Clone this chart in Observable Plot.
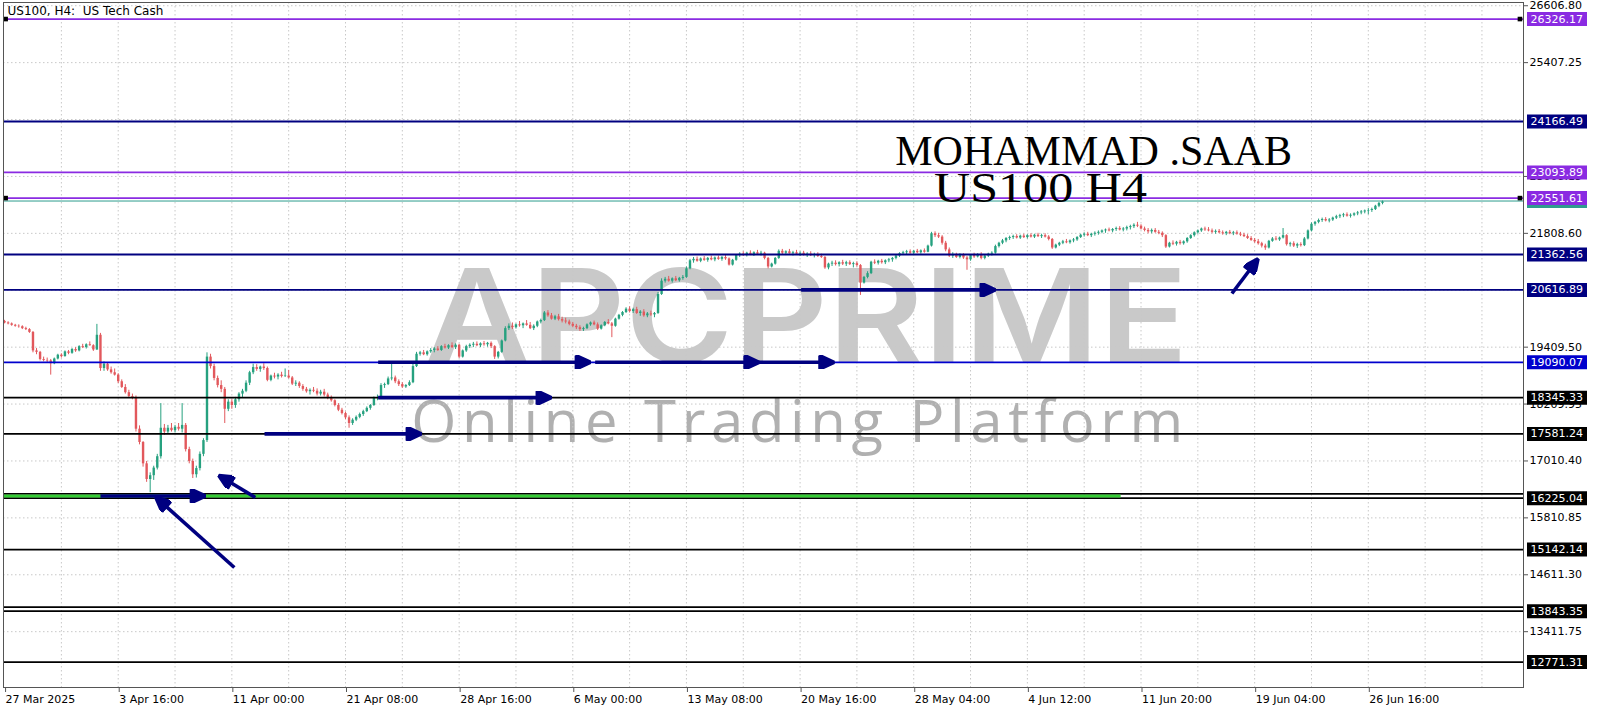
<!DOCTYPE html>
<html><head><meta charset="utf-8">
<script src="https://cdn.jsdelivr.net/npm/d3@7"></script>
<script src="https://cdn.jsdelivr.net/npm/@observablehq/plot@0.6"></script>
<style>html,body{margin:0;padding:0;background:#fff;}#chart svg{display:block;}</style>
</head><body><div id="chart"></div>
<script>
// ---- candles: [open, high, low, close], H4 bars from 27 Mar 2025 ----
const ohlc = [
// 27-28 Mar
[19950,19975,19900,19920],[19920,19945,19880,19900],[19900,19920,19850,19870],[19870,19890,19830,19850],
[19850,19880,19810,19840],[19840,19860,19780,19800],[19800,19830,19760,19780],[19780,19800,19700,19720],[19720,19740,19290,19330],[19330,19380,19250,19300],
// 31 Mar
[19300,19320,19120,19150],[19150,19200,19100,19130],[19130,19180,19080,19120],[19120,19150,18820,19060],[19060,19180,19040,19160],[19160,19260,19140,19240],
// 1 Apr
[19240,19270,19180,19210],[19210,19330,19200,19310],[19310,19340,19250,19280],[19280,19380,19260,19360],[19360,19400,19300,19330],[19330,19440,19310,19420],
// 2 Apr
[19420,19470,19380,19400],[19400,19480,19370,19460],[19460,19520,19430,19440],[19440,19460,19320,19350],[19350,19890,19340,19660],[19660,19700,18900,18960],
// 3 Apr
[18960,19100,18900,19050],[19050,19080,18900,18930],[18930,18990,18840,18870],[18870,18950,18800,18820],[18820,18850,18640,18680],[18680,18720,18540,18560],
// 4 Apr
[18560,18620,18420,18450],[18450,18500,18340,18370],[18370,18420,18300,18350],[18350,18380,17620,17680],[17680,17750,17350,17400],[17400,17420,16880,16950],
// 7 Apr
[16950,17000,16560,16620],[16620,16760,16340,16700],[16700,16900,16600,16860],[16860,17150,16820,17100],[17100,18220,17050,17700],[17700,17780,17550,17620],
// 8 Apr
[17620,17760,17580,17700],[17700,17800,17620,17650],[17650,17760,17600,17720],[17720,17800,17640,17680],[17680,18220,17600,17760],[17760,17800,17200,17250],
// 9 Apr
[17250,17300,16950,17000],[17000,17050,16640,16720],[16720,16900,16650,16850],[16850,17200,16800,17150],[17150,17480,17100,17440],[17440,19290,17400,19200],
// 10 Apr
[19200,19260,18950,19000],[19000,19050,18700,18750],[18750,18800,18550,18600],[18600,18700,18450,18520],[18520,18560,17800,18100],[18100,18300,18050,18250],
// 11 Apr
[18250,18300,18100,18180],[18180,18350,18120,18300],[18300,18450,18250,18420],[18420,18520,18350,18480],[18480,18700,18450,18650],[18650,18900,18600,18870],
// 14 Apr
[18870,19050,18830,18980],[18980,19040,18900,18940],[18940,19010,18880,18990],[18990,19060,18920,18960],[18960,18990,18680,18710],[18710,18820,18680,18800],
// 15 Apr
[18800,18860,18740,18780],[18780,18850,18720,18820],[18820,18880,18760,18790],[18790,18950,18770,18800],[18800,18920,18740,18760],[18760,18790,18600,18630],
// 16 Apr
[18630,18700,18580,18650],[18650,18680,18540,18580],[18580,18620,18480,18520],[18520,18560,18440,18470],[18470,18530,18400,18500],[18500,18560,18450,18480],
// 17 Apr
[18480,18530,18380,18420],[18420,18500,18380,18460],[18460,18520,18360,18400],[18400,18440,18300,18350],[18350,18380,18250,18280],[18280,18300,18150,18180],
// 21 Apr
[18180,18220,18050,18080],[18080,18120,17980,18010],[18010,18040,17880,17920],[17920,17960,17700,17800],[17800,17900,17760,17870],[17870,17960,17840,17930],
// 22 Apr
[17930,18020,17900,17990],[17990,18080,17950,18050],[18050,18150,18030,18120],[18120,18200,18080,18180],[18180,18360,18160,18330],[18330,18400,18280,18340],
// 23 Apr
[18340,18640,18320,18600],[18600,18650,18540,18620],[18620,18780,18600,18740],[18740,19060,18700,18760],[18760,18800,18640,18680],[18680,18720,18580,18620],
// 24 Apr
[18620,18660,18540,18570],[18570,18620,18540,18600],[18600,18700,18580,18660],[18660,19050,18640,19000],[19000,19300,18980,19260],[19260,19320,19220,19290],
// 25 Apr
[19290,19340,19230,19250],[19250,19330,19220,19310],[19310,19380,19280,19340],[19340,19400,19290,19370],[19370,19420,19320,19340],[19340,19440,19320,19420],
// 28 Apr
[19420,19470,19370,19390],[19390,19460,19360,19440],[19440,19500,19380,19400],[19400,19480,19360,19450],[19450,19470,19170,19200],[19200,19350,19180,19330],
// 29 Apr
[19330,19450,19300,19420],[19420,19480,19380,19450],[19450,19510,19400,19470],[19470,19520,19420,19440],[19440,19500,19400,19480],[19480,19530,19430,19460],
// 30 Apr
[19460,19510,19410,19490],[19490,19520,19380,19420],[19420,19440,19150,19200],[19200,19320,19160,19300],[19300,19560,19280,19540],[19540,19840,19520,19800],
// 1 May
[19800,19900,19760,19850],[19850,19920,19780,19820],[19820,19900,19790,19880],[19880,19950,19830,19860],[19860,19920,19800,19900],[19900,19970,19850,19870],
// 2 May
[19870,19930,19780,19800],[19800,19880,19760,19850],[19850,19960,19820,19940],[19940,20000,19900,19970],[19970,20160,19950,20130],[20130,20180,20040,20070],
// 5 May
[20070,20120,19980,20000],[20000,20080,19970,20050],[20050,20100,19960,19990],[19990,20040,19920,19960],[19960,20020,19900,19940],[19940,19980,19860,19890],
// 6 May
[19890,19930,19820,19850],[19850,19890,19780,19820],[19820,19860,19740,19780],[19780,19830,19740,19800],[19800,19900,19780,19880],[19880,19940,19850,19920],
// 7 May
[19920,19960,19860,19880],[19880,19920,19760,19790],[19790,19880,19770,19860],[19860,19950,19840,19930],[19930,19990,19880,19900],[19900,19930,19610,19850],
// 8 May
[19850,20020,19830,20000],[20000,20100,19980,20080],[20080,20160,20050,20140],[20140,20240,20120,20210],[20210,20260,20130,20160],[20160,20230,20120,20200],
// 9 May
[20200,20250,20100,20120],[20120,20180,20060,20150],[20150,20200,20040,20070],[20070,20140,20030,20110],[20110,20170,20060,20090],[20090,20140,20030,20120],
// 12 May
[20120,20560,20100,20520],[20520,20850,20500,20800],[20800,20880,20760,20840],[20840,20900,20780,20800],[20800,20870,20760,20850],[20850,20900,20790,20810],
// 13 May
[20810,20880,20780,20860],[20860,20920,20820,20880],[20880,21100,20860,21060],[21060,21260,21040,21230],[21230,21300,21180,21260],[21260,21310,21200,21220],
// 14 May
[21220,21290,21190,21270],[21270,21320,21220,21240],[21240,21300,21200,21280],[21280,21330,21230,21250],[21250,21310,21210,21290],[21290,21330,21240,21260],
// 15 May
[21260,21320,21220,21300],[21300,21340,21240,21270],[21270,21290,21120,21140],[21140,21260,21120,21240],[21240,21360,21220,21340],[21340,21400,21300,21370],
// 16 May
[21370,21420,21320,21350],[21350,21410,21310,21390],[21390,21440,21340,21360],[21360,21420,21320,21400],[21400,21450,21350,21370],[21370,21430,21330,21390],
// 19 May
[21390,21410,21250,21280],[21280,21300,21060,21100],[21100,21180,21080,21160],[21160,21300,21140,21280],[21280,21460,21260,21430],[21430,21470,21360,21390],
// 20 May
[21390,21440,21340,21420],[21420,21470,21370,21380],[21380,21430,21330,21400],[21400,21450,21360,21370],[21370,21420,21320,21390],[21390,21430,21330,21350],
// 21 May
[21350,21400,21300,21370],[21370,21420,21320,21340],[21340,21390,21290,21360],[21360,21400,21300,21320],[21320,21370,21280,21300],[21300,21320,21050,21080],
// 22 May
[21080,21180,21040,21160],[21160,21220,21110,21180],[21180,21230,21120,21150],[21150,21210,21100,21190],[21190,21240,21130,21160],[21160,21220,21110,21190],
// 23 May
[21190,21230,21130,21150],[21150,21200,21080,21170],[21170,21210,21100,21130],[21130,21150,20500,20760],[20760,20900,20740,20880],[20880,21000,20850,20960],
// 26-27 May
[20960,21220,20940,21200],[21200,21250,21150,21180],[21180,21240,21140,21220],[21220,21260,21160,21190],[21190,21250,21150,21230],[21230,21280,21190,21250],
[21250,21300,21200,21280],[21280,21350,21250,21330],[21330,21400,21300,21380],[21380,21430,21340,21400],[21400,21450,21350,21420],[21420,21460,21370,21390],
// 28 May
[21390,21450,21360,21430],[21430,21470,21380,21400],[21400,21460,21370,21440],[21440,21480,21390,21410],[21410,21560,21400,21540],[21540,21830,21520,21800],
// 29 May
[21800,21840,21720,21760],[21760,21810,21700,21730],[21730,21760,21560,21600],[21600,21640,21420,21460],[21460,21500,21300,21330],[21330,21400,21280,21360],
// 30 May
[21360,21390,21280,21300],[21300,21380,21270,21350],[21350,21380,21260,21290],[21290,21320,21030,21250],[21250,21360,21220,21340],[21340,21390,21280,21310],
// 2 Jun
[21310,21380,21290,21360],[21360,21400,21250,21280],[21280,21360,21250,21330],[21330,21390,21300,21370],[21370,21420,21330,21390],[21390,21560,21370,21530],
// 3 Jun
[21530,21620,21500,21600],[21600,21680,21570,21650],[21650,21720,21610,21700],[21700,21750,21660,21720],[21720,21770,21680,21740],[21740,21780,21690,21710],
// 4 Jun
[21710,21770,21680,21750],[21750,21790,21700,21720],[21720,21780,21690,21760],[21760,21800,21710,21730],[21730,21790,21700,21770],[21770,21810,21720,21740],
// 5 Jun
[21740,21790,21700,21760],[21760,21800,21710,21730],[21730,21760,21650,21680],[21680,21700,21470,21500],[21500,21580,21480,21560],[21560,21620,21530,21600],
// 6 Jun
[21600,21660,21570,21630],[21630,21680,21590,21610],[21610,21670,21580,21650],[21650,21700,21610,21670],[21670,21740,21640,21720],[21720,21790,21700,21770],
// 9 Jun
[21770,21820,21730,21790],[21790,21830,21740,21760],[21760,21810,21720,21790],[21790,21840,21750,21810],[21810,21860,21770,21830],[21830,21880,21800,21860],
// 10 Jun
[21860,21900,21810,21880],[21880,21920,21840,21860],[21860,21910,21820,21890],[21890,21940,21850,21910],[21910,21950,21860,21880],[21880,21930,21840,21900],
// 11 Jun
[21900,21960,21860,21930],[21930,21980,21880,21950],[21950,22010,21910,21980],[21980,22040,21930,21960],[21960,21990,21880,21900],[21900,21940,21840,21870],
// 12 Jun
[21870,21910,21800,21840],[21840,21900,21800,21870],[21870,21910,21810,21830],[21830,21870,21780,21810],[21810,21840,21720,21760],[21760,21780,21490,21520],
// 13 Jun
[21520,21620,21500,21600],[21600,21650,21550,21580],[21580,21640,21540,21620],[21620,21660,21560,21590],[21590,21650,21560,21630],[21630,21720,21600,21700],
// 16 Jun
[21700,21780,21680,21760],[21760,21840,21730,21820],[21820,21880,21790,21860],[21860,21920,21830,21900],[21900,21940,21850,21880],[21880,21930,21840,21860],
// 17 Jun
[21860,21900,21800,21830],[21830,21880,21790,21850],[21850,21890,21800,21820],[21820,21860,21770,21800],[21800,21850,21760,21830],[21830,21870,21780,21800],
// 18 Jun
[21800,21850,21760,21820],[21820,21860,21770,21790],[21790,21830,21740,21770],[21770,21810,21720,21740],[21740,21780,21680,21700],[21700,21740,21640,21660],
// 19 Jun
[21660,21700,21600,21630],[21630,21680,21560,21590],[21590,21620,21500,21540],[21540,21580,21450,21500],[21500,21660,21480,21640],[21640,21720,21620,21690],
// 20 Jun
[21690,21740,21650,21670],[21670,21730,21640,21710],[21710,21910,21690,21760],[21760,21780,21540,21570],[21570,21620,21520,21590],[21590,21630,21510,21540],
// 23 Jun
[21540,21600,21490,21570],[21570,21610,21520,21550],[21550,21720,21530,21690],[21690,21880,21670,21860],[21860,22030,21840,22000],[22000,22060,21960,22040],
// 24 Jun
[22040,22110,22010,22080],[22080,22130,22040,22100],[22100,22140,22050,22070],[22070,22120,22030,22090],[22090,22150,22060,22130],[22130,22190,22100,22160],
// 25 Jun
[22160,22210,22120,22180],[22180,22230,22140,22200],[22200,22240,22150,22170],[22170,22220,22130,22190],[22190,22240,22160,22220],[22220,22270,22180,22240],
// 26 Jun
[22240,22290,22200,22260],[22260,22300,22220,22280],[22280,22330,22200,22290],[22290,22340,22250,22310],[22310,22400,22290,22380],[22380,22460,22350,22440],
// 27 Jun
[22440,22490,22410,22470]
];

// ---- axes ----
const xTickIdx = [0,32,64,96,128,160,192,224,256,288,320,352,384];
const xTickLabels = ["27 Mar 2025","3 Apr 16:00","11 Apr 00:00","21 Apr 08:00","28 Apr 16:00","6 May 00:00","13 May 08:00","20 May 16:00","28 May 04:00","4 Jun 12:00","11 Jun 20:00","19 Jun 04:00","26 Jun 16:00"];
const gridIdx = [16,32,48,64,80,96,112,128,144,160,176,192,208,224,240,256,272,288,304,320,336,352,368,384,400,416];
const yTicks = [26606.80,25407.25,24207.70,23008.15,21808.60,20609.05,19409.50,18209.95,17010.40,15810.85,14611.30,13411.75];
const yTicksCovered = [24207.70, 20609.05];   // fully hidden under level labels

// ---- horizontal levels ----
const levelPrices = [26326.17,24166.49,23093.89,22551.61,21362.56,20616.89,19090.07,18345.33,17581.24,16225.04,15142.14,13843.35,12771.31];
const levelKinds  = ["violet","navy","violet","violet","navy","navy","blue","black","black","black","black","black","black"];
const partnerLinePrices = [16318, 13928];   // second line of the double levels
const bidPrice = 22490;
const greenZonePrice = 16271;
const greenZoneIdx = [-0.3, 314.4];

// ---- drawn arrows (bar index, price) ----
const arrowFrom = [[105.2,19090],[166.3,19090],[211.9,19090],[105.2,18345],[73.2,17581],[224.3,20617],[345.6,20541],[27,16271],[64.7,14765],[70.6,16240]];
const arrowTo   = [[164.4,19090],[211.9,19090],[233.0,19090],[153.4,18345],[116.8,17581],[278.4,20617],[352.6,21236],[56,16271],[43.0,16219],[60.8,16683]];

// ---- anchors of selected lines ----
const anchorIdx = [0.3, 426.7, 0.3, 426.7];
const anchorPrice = [26326.17, 26326.17, 22551.61, 22551.61];

// ---- texts ----
const titleText = "US100, H4:  US Tech Cash";
const noteTexts = ["MOHAMMAD .SAAB", "US100 H4"];
const noteIdx = [250.8, 261.7];
const notePrice = [23239, 22480];
const wmTexts = ["APCPRIME", "Online Trading Platform"];
const wmIdx = [225.7, 223.2];
const wmPrice = [19086, 17400];

// ---- build ----
const bull = "#26a17f", bear = "#e2585c";
const kindColor = {violet: "#8a2be2", navy: "#000080", blue: "#0000cd", black: "#000000"};
const candles = ohlc.map(([o, h, l, c], i) => ({i, o, h, l, c, col: c >= o ? bull : bear}));
const levels = levelPrices.map((price, k) => ({price, col: kindColor[levelKinds[k]]}));
const partners = partnerLinePrices.map(price => ({price}));
const arrows = arrowFrom.map((f, k) => ({x1: f[0], y1: f[1], x2: arrowTo[k][0], y2: arrowTo[k][1]}));
const anchors = anchorIdx.map((x, k) => ({x, y: anchorPrice[k]}));
const notes = noteTexts.map((t, k) => ({t, x: noteIdx[k], y: notePrice[k]}));
const labelOf = new Map(xTickIdx.map((d, k) => [d, xTickLabels[k]]));
const yTickLabels = yTicks.filter(v => !yTicksCovered.includes(v));

const boxSymbol = {draw(ctx) { ctx.rect(3.5, -7, 60, 14); }};
function headMarker(color) {
  const ns = "http://www.w3.org/2000/svg";
  const m = document.createElementNS(ns, "marker");
  m.setAttribute("viewBox", "-14 -7 17 14");
  m.setAttribute("markerWidth", 17);
  m.setAttribute("markerHeight", 14);
  m.setAttribute("markerUnits", "userSpaceOnUse");
  m.setAttribute("orient", "auto");
  const p = document.createElementNS(ns, "path");
  p.setAttribute("d", "M-12,-6.5L2,0L-12,6.5Z");
  p.setAttribute("fill", color);
  m.appendChild(p);
  return m;
}

const chart = Plot.plot({
  width: 1600, height: 711,
  marginLeft: 3, marginRight: 77, marginTop: 2, marginBottom: 24,
  x: {domain: [-0.3, 427.7]},
  y: {domain: [12235, 26675]},
  color: {type: "identity"},
  style: {fontFamily: "DejaVu Sans", fontSize: "11px", background: "#fff", color: "#000"},
  marks: [
    Plot.text([wmTexts[0]], {x: wmIdx[0], y: wmPrice[0], text: d => d, fontFamily: "Inter", fontWeight: 600, fontSize: 130, fill: "#c9c9c9", textAnchor: "middle", lineAnchor: "bottom"}),
    Plot.text([wmTexts[1]], {x: wmIdx[1], y: wmPrice[1], text: d => d, fontFamily: "Open Sans", fontWeight: 400, fontSize: 58, fill: "#b0b0b0", textAnchor: "middle", lineAnchor: "bottom"}),
    Plot.gridX(gridIdx, {stroke: "#c8c8c8", strokeOpacity: 1, strokeDasharray: "1.5,2.5"}),
    Plot.gridY(yTicks, {stroke: "#c8c8c8", strokeOpacity: 1, strokeDasharray: "1.5,2.5"}),
    Plot.ruleX(candles, {x: "i", y1: "l", y2: "h", stroke: "col", strokeWidth: 1}),
    Plot.ruleX(candles, {x: "i", y1: "o", y2: "c", stroke: "col", strokeWidth: 2.4}),
    Plot.ruleY([bidPrice], {stroke: "#2e9c8e", strokeWidth: 1}),
    Plot.ruleY(partners, {y: "price", stroke: "#000", strokeWidth: 1.8}),
    Plot.ruleY(levels, {y: "price", stroke: "col", strokeWidth: 1.8}),
    Plot.ruleY([greenZonePrice], {x1: greenZoneIdx[0], x2: greenZoneIdx[1], stroke: "#33cc33", strokeWidth: 3}),
    Plot.link(arrows, {x1: "x1", y1: "y1", x2: "x2", y2: "y2", stroke: "#000080", strokeWidth: 3.6, markerEnd: headMarker}),
    Plot.dot(anchors, {x: "x", y: "y", symbol: "square", r: 2.6, fill: "#000", stroke: "none"}),
    Plot.text(notes, {x: "x", y: "y", text: "t", fontFamily: "Liberation Serif", fontSize: 42, fill: "#000", textAnchor: "start", lineAnchor: "bottom"}),
    Plot.axisX(xTickIdx, {tickFormat: d => labelOf.get(d), textAnchor: "start", tickSize: 5, tickPadding: 3, dx: 1, label: null, stroke: "#555", fontSize: 11}),
    Plot.axisY(yTickLabels, {anchor: "right", tickFormat: d => d.toFixed(2), tickSize: 4, tickPadding: 2, label: null, stroke: "#555", fontSize: 11}),
    Plot.dot([bidPrice], {y: d => d, frameAnchor: "right", symbol: boxSymbol, r: 5, fill: "#2e9c8e", stroke: "none"}),
    Plot.dot(levels, {y: "price", frameAnchor: "right", symbol: boxSymbol, r: 5, fill: "col", stroke: "none"}),
    Plot.text(levels, {y: "price", frameAnchor: "right", text: d => d.price.toFixed(2), dx: 7, textAnchor: "start", fill: "#fff", fontSize: 11}),
    Plot.frame({stroke: "#555"}),
    Plot.text([titleText], {frameAnchor: "top-left", text: d => d, dx: 4, dy: 4, lineAnchor: "top", textAnchor: "start", fontSize: 12, fill: "#000"})
  ]
});
document.getElementById("chart").appendChild(chart);
const texts = d3.select(chart).selectAll("text");
const byContent = s => texts.filter(function () { return this.textContent === s; });
byContent(wmTexts[0]).attr("textLength", 764).attr("lengthAdjust", "spacingAndGlyphs");
byContent(wmTexts[1]).attr("textLength", 772).attr("lengthAdjust", "spacing");
byContent(noteTexts[1]).attr("textLength", 213).attr("lengthAdjust", "spacingAndGlyphs");
byContent(titleText).style("white-space", "pre");
</script>
</body></html>
